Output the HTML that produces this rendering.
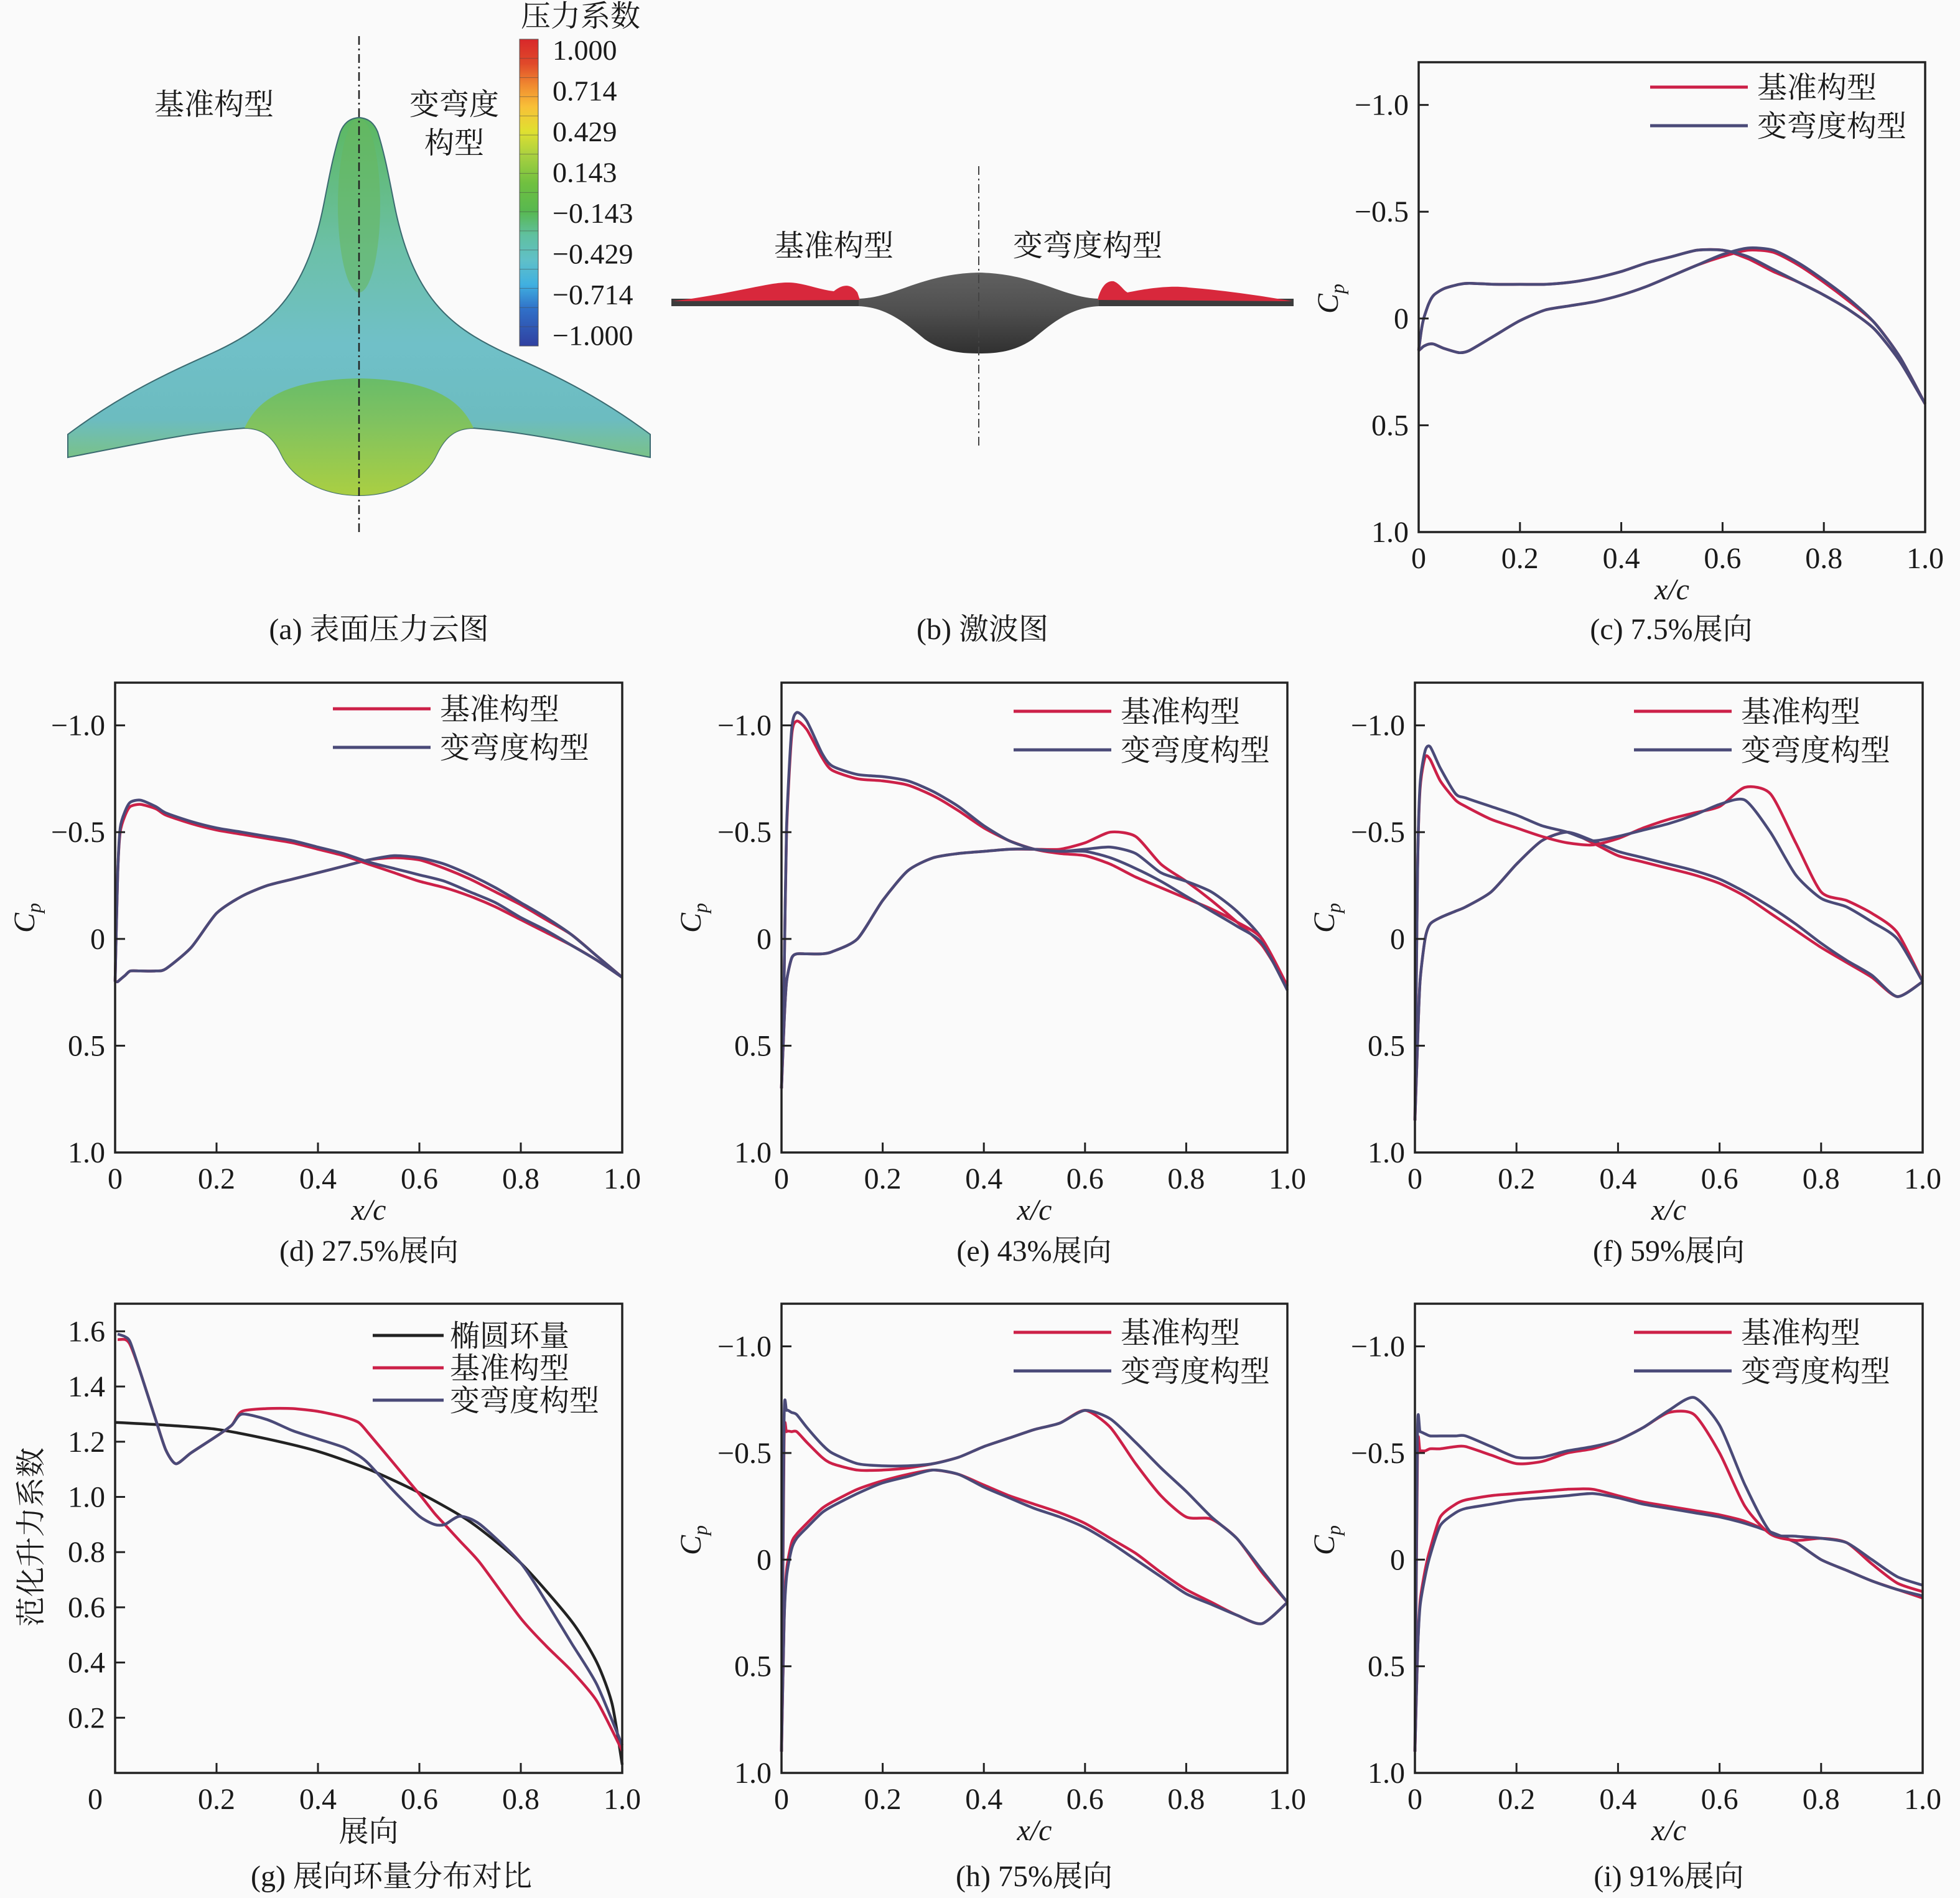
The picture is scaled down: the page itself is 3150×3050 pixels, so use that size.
<!DOCTYPE html>
<html><head><meta charset="utf-8">
<style>
html,body{margin:0;padding:0;background:#fafafa;}
svg{display:block;}
text{font-family:"Liberation Serif","Noto Serif CJK SC",serif;fill:#1a1a1a;}
</style></head>
<body>
<svg id="fig" width="3150" height="3050" viewBox="0 0 3150 3050" xmlns="http://www.w3.org/2000/svg">
<rect x="0" y="0" width="3150" height="3050" fill="#fafafa"/>
<defs>
<linearGradient id="cbar" x1="0" y1="0" x2="0" y2="1">
<stop offset="0" stop-color="#d8282a"/><stop offset="0.08" stop-color="#e04a2a"/>
<stop offset="0.15" stop-color="#f08a30"/><stop offset="0.22" stop-color="#f8c038"/>
<stop offset="0.3" stop-color="#e0e030"/><stop offset="0.38" stop-color="#a8d040"/>
<stop offset="0.47" stop-color="#70c040"/><stop offset="0.56" stop-color="#58b850"/>
<stop offset="0.64" stop-color="#60c0a0"/><stop offset="0.72" stop-color="#60c0c8"/>
<stop offset="0.8" stop-color="#40b0e0"/><stop offset="0.88" stop-color="#3070c8"/>
<stop offset="1" stop-color="#3040a0"/></linearGradient>
<linearGradient id="wingg" x1="0" y1="0" x2="0" y2="1">
<stop offset="0" stop-color="#5cb860"/><stop offset="0.35" stop-color="#6cc0a8"/>
<stop offset="0.6" stop-color="#70c0c8"/><stop offset="0.8" stop-color="#6cbcc0"/>
<stop offset="1" stop-color="#88c850"/></linearGradient>
<linearGradient id="bodyg" x1="0" y1="0" x2="0" y2="1">
<stop offset="0" stop-color="#68bc58"/><stop offset="1" stop-color="#b0d040"/></linearGradient>
<linearGradient id="shockg" x1="0" y1="0" x2="0" y2="1">
<stop offset="0" stop-color="#606060"/><stop offset="0.45" stop-color="#505050"/><stop offset="1" stop-color="#303030"/></linearGradient>
</defs>

<!-- Panel (a) -->
<g>
<path fill="url(#wingg)" stroke="#3a6a70" stroke-width="2"
 d="M577,189 C560,190 552,200 547,212 C535,250 528,290 520,330 C508,390 490,440 460,480 C430,520 390,545 340,568 C280,595 200,630 109,698 L109,735 C200,718 300,695 393,688 C420,688 438,700 452,730 C470,770 520,796 577,796 C634,796 684,770 702,730 C716,700 734,688 761,688 C854,695 954,718 1045,735 L1045,698 C954,630 874,595 814,568 C764,545 724,520 694,480 C664,440 646,390 634,330 C626,290 619,250 607,212 C602,200 594,190 577,189 Z"/>
<path fill="url(#bodyg)" opacity="0.85"
 d="M393,688 C420,688 438,700 452,730 C470,770 520,796 577,796 C634,796 684,770 702,730 C716,700 734,688 761,688 C740,640 690,610 577,608 C464,610 414,640 393,688 Z"/>
<ellipse cx="577" cy="330" rx="34" ry="140" fill="#68b860" opacity="0.6"/>
<line x1="577" y1="58" x2="577" y2="860" stroke="#222" stroke-width="2.5" stroke-dasharray="14,6,3,6"/>
<text x="344" y="184" font-size="48" text-anchor="middle">基准构型</text>
<text x="730" y="184" font-size="48" text-anchor="middle">变弯度</text>
<text x="730" y="246" font-size="48" text-anchor="middle">构型</text>
<text x="933" y="42" font-size="48" text-anchor="middle">压力系数</text>
<rect x="835" y="63" width="30" height="493" fill="url(#cbar)" stroke="#555" stroke-width="1"/>
<g id="cbticks"></g>
<text x="609" y="1027" font-size="48" text-anchor="middle">(a) 表面压力云图</text>
</g>

<!-- Panel (b) -->
<g>
<path fill="#3c3c3c" d="M1079,480 L2079,480 L2079,492 L1079,492 Z"/>
<path fill="url(#shockg)"
 d="M1380,480 C1440,478 1480,440 1573,438 C1666,440 1706,478 1766,480 L1766,492 C1720,494 1690,520 1660,545 C1630,566 1600,568 1573,568 C1546,568 1516,566 1486,545 C1456,520 1426,494 1380,492 Z"/>
<path fill="#d8283c" d="M1081,484 C1130,478 1170,470 1210,462 C1240,456 1260,452 1280,455 C1300,458 1320,466 1340,468 C1350,460 1365,452 1378,470 L1382,482 Z"/>
<path fill="#d8283c" d="M1764,482 C1768,466 1776,450 1790,452 C1800,456 1805,466 1812,470 C1840,464 1880,458 1910,462 C1960,466 2020,474 2077,484 Z"/>
<line x1="1573" y1="267" x2="1573" y2="720" stroke="#444" stroke-width="2" stroke-dasharray="14,6,3,6"/>
<text x="1340" y="411" font-size="48" text-anchor="middle">基准构型</text>
<text x="1748" y="411" font-size="48" text-anchor="middle">变弯度构型</text>
<text x="1579" y="1027" font-size="48" text-anchor="middle">(b) 激波图</text>
</g>

<g id="charts"></g>
</svg>

<script>
// ---------- DATA ----------
const grid = [0,0.005,0.01,0.02,0.03,0.05,0.08,0.1,0.15,0.2,0.25,0.3,0.35,0.4,0.45,0.5,0.55,0.6,0.65,0.7,0.75,0.8,0.85,0.9,0.95,1.0];
const cpTicks = [-1.0,-0.5,0,0.5,1.0];
const cpTickLabels = ["\u22121.0","\u22120.5","0","0.5","1.0"];
const xTicks = [0,0.2,0.4,0.6,0.8,1.0];
const xTickLabels = ["0","0.2","0.4","0.6","0.8","1.0"];
const legendNames = ["基准构型","变弯度构型"];

const cBaseUp = [0.15,0.06,0.0,-0.07,-0.11,-0.14,-0.16,-0.165,-0.16,-0.16,-0.16,-0.17,-0.19,-0.22,-0.26,-0.29,-0.32,-0.32,-0.28,-0.22,-0.17,-0.11,-0.04,0.05,0.2,0.4];
const cVarUp  = [0.15,0.06,0.0,-0.07,-0.11,-0.14,-0.16,-0.165,-0.16,-0.16,-0.16,-0.17,-0.19,-0.22,-0.26,-0.29,-0.32,-0.32,-0.29,-0.23,-0.17,-0.11,-0.04,0.05,0.2,0.4];
const cBaseLo = [0.15,0.14,0.13,0.12,0.12,0.14,0.16,0.15,0.08,0.01,-0.04,-0.06,-0.08,-0.11,-0.15,-0.2,-0.25,-0.29,-0.32,-0.31,-0.25,-0.17,-0.08,0.02,0.18,0.4];
const cVarLo  = [0.15,0.14,0.13,0.12,0.12,0.14,0.16,0.15,0.08,0.01,-0.04,-0.06,-0.08,-0.11,-0.15,-0.2,-0.25,-0.3,-0.33,-0.32,-0.26,-0.18,-0.09,0.02,0.18,0.4];

const dBaseUp = [0.2,-0.3,-0.5,-0.58,-0.62,-0.63,-0.61,-0.58,-0.54,-0.51,-0.49,-0.47,-0.45,-0.42,-0.39,-0.35,-0.31,-0.27,-0.24,-0.2,-0.15,-0.09,-0.03,0.03,0.1,0.18];
const dVarUp  = [0.2,-0.3,-0.52,-0.6,-0.64,-0.65,-0.62,-0.59,-0.55,-0.52,-0.5,-0.48,-0.46,-0.43,-0.4,-0.36,-0.33,-0.3,-0.27,-0.22,-0.17,-0.1,-0.04,0.03,0.1,0.18];
const dBaseLo = [0.2,0.2,0.19,0.17,0.15,0.15,0.15,0.14,0.04,-0.12,-0.2,-0.25,-0.28,-0.31,-0.34,-0.37,-0.38,-0.37,-0.33,-0.28,-0.22,-0.16,-0.09,-0.02,0.08,0.18];
const dVarLo  = [0.2,0.2,0.19,0.17,0.15,0.15,0.15,0.14,0.04,-0.12,-0.2,-0.25,-0.28,-0.31,-0.34,-0.37,-0.39,-0.38,-0.35,-0.3,-0.24,-0.17,-0.1,-0.02,0.08,0.18];

const eBaseUp = [0.7,0.2,-0.5,-0.95,-1.02,-0.98,-0.85,-0.79,-0.75,-0.74,-0.72,-0.67,-0.6,-0.52,-0.46,-0.42,-0.4,-0.39,-0.35,-0.29,-0.24,-0.19,-0.14,-0.08,0.0,0.22];
const eVarUp  = [0.7,0.2,-0.52,-0.98,-1.06,-1.02,-0.87,-0.81,-0.77,-0.76,-0.74,-0.69,-0.62,-0.53,-0.46,-0.42,-0.41,-0.41,-0.38,-0.33,-0.27,-0.2,-0.13,-0.06,0.02,0.24];
const eBaseLo = [0.7,0.4,0.2,0.09,0.07,0.07,0.07,0.06,0.0,-0.18,-0.32,-0.38,-0.4,-0.41,-0.42,-0.42,-0.42,-0.45,-0.5,-0.48,-0.35,-0.27,-0.18,-0.08,0.03,0.22];
const eVarLo  = [0.7,0.4,0.2,0.09,0.07,0.07,0.07,0.06,0.0,-0.18,-0.32,-0.38,-0.4,-0.41,-0.42,-0.42,-0.41,-0.42,-0.43,-0.4,-0.31,-0.27,-0.22,-0.13,0.0,0.24];

const fBaseUp = [0.85,-0.3,-0.7,-0.85,-0.84,-0.74,-0.65,-0.62,-0.56,-0.52,-0.48,-0.45,-0.44,-0.47,-0.52,-0.56,-0.59,-0.62,-0.71,-0.68,-0.45,-0.22,-0.18,-0.12,-0.03,0.2];
const fVarUp  = [0.85,-0.3,-0.72,-0.88,-0.9,-0.8,-0.68,-0.66,-0.62,-0.58,-0.53,-0.5,-0.46,-0.48,-0.51,-0.54,-0.58,-0.63,-0.65,-0.5,-0.3,-0.19,-0.15,-0.08,0.0,0.2];
const fBaseLo = [0.85,0.5,0.2,0.0,-0.07,-0.1,-0.13,-0.15,-0.22,-0.35,-0.46,-0.5,-0.45,-0.39,-0.36,-0.33,-0.3,-0.26,-0.2,-0.12,-0.04,0.04,0.11,0.18,0.27,0.2];
const fVarLo  = [0.85,0.5,0.2,0.0,-0.07,-0.1,-0.13,-0.15,-0.22,-0.35,-0.46,-0.5,-0.46,-0.41,-0.38,-0.35,-0.32,-0.28,-0.22,-0.15,-0.07,0.02,0.1,0.17,0.27,0.2];

const hBaseUp = [0.9,-0.55,-0.6,-0.6,-0.6,-0.55,-0.48,-0.45,-0.42,-0.42,-0.43,-0.45,-0.48,-0.53,-0.57,-0.61,-0.64,-0.7,-0.62,-0.45,-0.3,-0.2,-0.19,-0.1,0.06,0.2];
const hVarUp  = [0.9,-0.65,-0.7,-0.69,-0.68,-0.62,-0.54,-0.5,-0.45,-0.44,-0.44,-0.45,-0.48,-0.53,-0.57,-0.61,-0.64,-0.7,-0.66,-0.55,-0.43,-0.32,-0.2,-0.1,0.05,0.2];
const hBaseLo = [0.9,0.3,0.05,-0.08,-0.12,-0.17,-0.24,-0.27,-0.33,-0.37,-0.4,-0.42,-0.4,-0.35,-0.3,-0.26,-0.22,-0.17,-0.1,-0.03,0.06,0.14,0.2,0.26,0.3,0.2];
const hVarLo  = [0.9,0.3,0.08,-0.05,-0.1,-0.15,-0.22,-0.25,-0.31,-0.36,-0.39,-0.42,-0.4,-0.34,-0.29,-0.24,-0.2,-0.15,-0.08,0.0,0.08,0.16,0.21,0.26,0.3,0.2];

const iBaseUp = [0.9,-0.5,-0.51,-0.51,-0.52,-0.52,-0.53,-0.53,-0.49,-0.45,-0.46,-0.5,-0.52,-0.56,-0.62,-0.69,-0.68,-0.5,-0.25,-0.12,-0.09,-0.1,-0.08,0.02,0.11,0.15];
const iVarUp  = [0.9,-0.6,-0.6,-0.59,-0.58,-0.58,-0.58,-0.58,-0.53,-0.48,-0.48,-0.51,-0.53,-0.56,-0.62,-0.7,-0.76,-0.63,-0.35,-0.13,-0.11,-0.1,-0.08,0.0,0.08,0.12];
const iBaseLo = [0.9,0.45,0.2,0.05,-0.05,-0.2,-0.26,-0.28,-0.3,-0.31,-0.32,-0.33,-0.33,-0.3,-0.27,-0.25,-0.23,-0.21,-0.18,-0.13,-0.08,0.0,0.05,0.1,0.14,0.18];
const iVarLo  = [0.9,0.45,0.22,0.08,-0.02,-0.16,-0.22,-0.24,-0.26,-0.28,-0.29,-0.3,-0.31,-0.29,-0.26,-0.24,-0.22,-0.2,-0.17,-0.13,-0.08,0.0,0.05,0.1,0.14,0.17];

// panel (g) spanwise circulation
const gEllX = [0,0.1,0.2,0.3,0.4,0.5,0.6,0.7,0.8,0.9,0.95,0.98,1.0];
const gEllY = [1.27,1.26,1.245,1.21,1.165,1.1,1.015,0.91,0.76,0.55,0.4,0.25,0.03];
const gX = [0.005,0.02,0.03,0.05,0.08,0.1,0.12,0.15,0.2,0.23,0.25,0.3,0.35,0.4,0.45,0.48,0.5,0.55,0.6,0.63,0.65,0.68,0.72,0.8,0.85,0.9,0.95,1.0];
const gBase = [1.57,1.57,1.55,1.45,1.28,1.17,1.12,1.16,1.22,1.26,1.31,1.32,1.32,1.31,1.29,1.27,1.23,1.12,1.01,0.94,0.9,0.84,0.76,0.56,0.46,0.37,0.26,0.08];
const gVar  = [1.59,1.58,1.56,1.45,1.28,1.17,1.12,1.16,1.22,1.26,1.3,1.28,1.24,1.21,1.18,1.15,1.12,1.02,0.93,0.9,0.9,0.93,0.9,0.76,0.62,0.47,0.32,0.1];
const gYTicks = [0.2,0.4,0.6,0.8,1.0,1.2,1.4,1.6];
const gYTickLabels = ["0.2","0.4","0.6","0.8","1.0","1.2","1.4","1.6"];
const gLegend = ["椭圆环量","基准构型","变弯度构型"];
const cbLabels = ["1.000","0.714","0.429","0.143","\u22120.143","\u22120.429","\u22120.714","\u22121.000"];

// ---------- DRAW ----------
const NS = "http://www.w3.org/2000/svg";
const root = document.getElementById('charts');
function mk(tag, attrs, parent){
  const el = document.createElementNS(NS, tag);
  for (const k in attrs) el.setAttribute(k, attrs[k]);
  (parent||root).appendChild(el);
  return el;
}
function smoothPath(pts){
  if (pts.length < 2) return "";
  let d = "M" + pts[0][0].toFixed(1) + "," + pts[0][1].toFixed(1);
  for (let i=0;i<pts.length-1;i++){
    const p0 = pts[Math.max(0,i-1)], p1 = pts[i], p2 = pts[i+1], p3 = pts[Math.min(pts.length-1,i+2)];
    const t = 0.12;
    const c1x = p1[0] + (p2[0]-p0[0])*t, c1y = p1[1] + (p2[1]-p0[1])*t;
    const c2x = p2[0] - (p3[0]-p1[0])*t, c2y = p2[1] - (p3[1]-p1[1])*t;
    d += " C"+c1x.toFixed(1)+","+c1y.toFixed(1)+" "+c2x.toFixed(1)+","+c2y.toFixed(1)+" "+p2[0].toFixed(1)+","+p2[1].toFixed(1);
  }
  return d;
}

// colorbar labels
const cbg = document.getElementById('cbticks');
cbLabels.forEach((lab,i)=>{
  const t = mk('text',{x:888,y:96+i*65.5,'font-size':46},cbg);
  
  
  t.textContent = lab;
});
for (let i=1;i<16;i++){
  const l = mk('line',{x1:835,x2:865,y1:63+i*30.8,y2:63+i*30.8,stroke:'#444','stroke-width':1,opacity:0.5},cbg);
  
  
}

const RED = "#cc2048", VAR = "#4a4a78";

function cpPanel(id, box, series, legendPos, caption, cpPos){
  const g = mk('g',{});
  
  
  const xs = v => box.L + (box.R-box.L)*v;
  const ys = v => box.T + (box.B-box.T)*(v - (-1.2))/2.2;
  series.forEach(s=>{
    const p = mk('path',{d:smoothPath(grid.map((x,i)=>[xs(x),ys(s.data[i])])),fill:'none',stroke:s.color,'stroke-width':4.5,'stroke-linejoin':'round'},g);
    
    
  });
  const fr = mk('rect',{x:box.L,y:box.T,width:box.R-box.L,height:box.B-box.T,fill:'none',stroke:'#222','stroke-width':3.5},g);
  
  
  cpTicks.forEach((v,i)=>{
    const tl = mk('line',{x1:box.L,x2:box.L+16,y1:ys(v),y2:ys(v),stroke:'#222','stroke-width':3},g);
    
    
    const t = mk('text',{x:box.L-16,y:ys(v)+16,'font-size':48,'text-anchor':'end'},g);
    
    
    t.textContent = cpTickLabels[i];
  });
  xTicks.forEach((v,i)=>{
    if (v>0 && v<1){
      const tl = mk('line',{x1:xs(v),x2:xs(v),y1:box.B,y2:box.B-16,stroke:'#222','stroke-width':3},g);
      
      
    }
    const t = mk('text',{x:xs(v),y:box.B+58,'font-size':48,'text-anchor':'middle'},g);
    
    
    t.textContent = xTickLabels[i];
  });
  const xl = mk('text',{x:(box.L+box.R)/2,y:box.B+108,'font-size':48,'font-style':'italic','text-anchor':'middle'},g);
  
  
  xl.textContent = 'x/c';
  const yl = mk('text',{x:0,y:0,'font-size':48,'font-style':'italic','text-anchor':'middle',transform:'translate('+(box.L-130)+','+cpPos+') rotate(-90)'},g);
  
  
  yl.innerHTML = 'C<tspan font-size="32" dy="10">p</tspan>';
  let li = 0;
  series.forEach(s=>{
    if (!s.legend) return;
    const ly = box.T + legendPos.y + li*62;
    li++;
    const ll = mk('line',{x1:box.L+legendPos.x,x2:box.L+legendPos.x+157,y1:ly,y2:ly,stroke:s.color,'stroke-width':5},g);
    
    
    const lt = mk('text',{x:box.L+legendPos.x+172,y:ly+17,'font-size':48},g);
    
    
    lt.textContent = s.legend;
  });
  const cap = mk('text',{x:caption.x,y:caption.y,'font-size':48,'text-anchor':'middle'},g);
  
  
  cap.textContent = caption.text;
}

function series4(bu,bl,vu,vl){
  return [
    {name:'baseline-lower',color:RED,data:bl},
    {name:'variable-lower',color:VAR,data:vl},
    {name:'baseline-upper',color:RED,data:bu,legend:legendNames[0]},
    {name:'variable-upper',color:VAR,data:vu,legend:legendNames[1]}
  ];
}
cpPanel('c',{L:2280,T:100,R:3094,B:855},series4(cBaseUp,cBaseLo,cVarUp,cVarLo),{x:372,y:40},{x:2686,y:1027,text:'(c) 7.5%展向'},480);
cpPanel('d',{L:185,T:1097,R:1000,B:1852},series4(dBaseUp,dBaseLo,dVarUp,dVarLo),{x:350,y:42},{x:593,y:2026,text:'(d) 27.5%展向'},1475);
cpPanel('e',{L:1256,T:1097,R:2069,B:1852},series4(eBaseUp,eBaseLo,eVarUp,eVarLo),{x:373,y:46},{x:1662,y:2026,text:'(e) 43%展向'},1475);
cpPanel('f',{L:2274,T:1097,R:3090,B:1852},series4(fBaseUp,fBaseLo,fVarUp,fVarLo),{x:352,y:46},{x:2682,y:2026,text:'(f) 59%展向'},1475);
cpPanel('h',{L:1256,T:2095,R:2069,B:2849},series4(hBaseUp,hBaseLo,hVarUp,hVarLo),{x:373,y:46},{x:1662,y:3031,text:'(h) 75%展向'},2475);
cpPanel('i',{L:2274,T:2095,R:3090,B:2849},series4(iBaseUp,iBaseLo,iVarUp,iVarLo),{x:352,y:46},{x:2682,y:3031,text:'(i) 91%展向'},2475);

// panel g
(function(){
  const box = {L:185,T:2095,R:1000,B:2849};
  const g = mk('g',{});
  
  
  const xs = v => box.L + (box.R-box.L)*v;
  const ys = v => box.B - (box.B-box.T)*v/1.7;
  const e = mk('path',{d:smoothPath(gEllX.map((x,i)=>[xs(x),ys(gEllY[i])])),fill:'none',stroke:'#222','stroke-width':4.5},g);
  
  
  const b = mk('path',{d:smoothPath(gX.map((x,i)=>[xs(x),ys(gBase[i])])),fill:'none',stroke:RED,'stroke-width':4.5},g);
  
  
  const v = mk('path',{d:smoothPath(gX.map((x,i)=>[xs(x),ys(gVar[i])])),fill:'none',stroke:VAR,'stroke-width':4.5},g);
  
  
  const fr = mk('rect',{x:box.L,y:box.T,width:box.R-box.L,height:box.B-box.T,fill:'none',stroke:'#222','stroke-width':3.5},g);
  
  
  gYTicks.forEach((val,i)=>{
    const tl = mk('line',{x1:box.L,x2:box.L+16,y1:ys(val),y2:ys(val),stroke:'#222','stroke-width':3},g);
    
    
    const t = mk('text',{x:box.L-16,y:ys(val)+16,'font-size':48,'text-anchor':'end'},g);
    
    
    t.textContent = gYTickLabels[i];
  });
  xTicks.forEach((val,i)=>{
    if (val>0 && val<1){
      const tl = mk('line',{x1:xs(val),x2:xs(val),y1:box.B,y2:box.B-16,stroke:'#222','stroke-width':3},g);
      
      
    }
    const t = mk('text',{x: val===0 ? box.L-32 : xs(val),y:box.B+58,'font-size':48,'text-anchor':'middle'},g);
    
    
    t.textContent = xTickLabels[i];
  });
  const xl = mk('text',{x:(box.L+box.R)/2,y:box.B+110,'font-size':48,'text-anchor':'middle'},g);
  
  
  xl.textContent = '展向';
  const yl = mk('text',{x:0,y:0,'font-size':48,'text-anchor':'middle',transform:'translate(66,2470) rotate(-90)'},g);
  
  
  yl.textContent = '范化升力系数';
  const cols = ['#222',RED,VAR];
  gLegend.forEach((lab,i)=>{
    const ly = box.T + 51 + i*52;
    const ll = mk('line',{x1:box.L+414,x2:box.L+528,y1:ly,y2:ly,stroke:cols[i],'stroke-width':5},g);
    
    
    const lt = mk('text',{x:box.L+538,y:ly+17,'font-size':48},g);
    
    
    lt.textContent = lab;
  });
  const cap = mk('text',{x:629,y:3031,'font-size':48,'text-anchor':'middle'},g);
  
  
  cap.textContent = '(g) 展向环量分布对比';
})();
</script>
</body></html>
